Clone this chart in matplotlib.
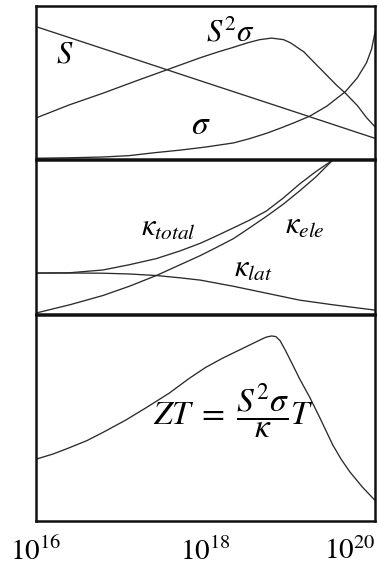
"""
Carrier concentration dependence of the thermoelectric quantities:
Seebeck coefficient, conductivity, power factor, thermal conductivity and ZT
"""

import numpy as np
import matplotlib
matplotlib.use("Agg")
import matplotlib.pyplot as plt

plt.rcParams['font.family'] = ['Liberation Serif', 'DejaVu Serif']
plt.rcParams['mathtext.fontset'] = 'stix'

# log10 of carrier concentration and relative (arbitrary unit) values
seebeck_n = [16.0, 17.0, 18.0, 19.0, 20.0]
seebeck = [0.865, 0.683, 0.50, 0.318, 0.135]

sigma_n = [16.0, 16.4, 16.79, 17.1, 17.38, 17.7, 18.0, 18.33, 18.52, 18.72, 18.9, 19.05,
           19.23, 19.43, 19.65, 19.79, 19.9, 19.96, 20.0]
sigma = [0.005, 0.008, 0.013, 0.022, 0.04, 0.058, 0.078, 0.105, 0.133, 0.168, 0.205, 0.238,
         0.28, 0.345, 0.44, 0.53, 0.63, 0.72, 0.83]

pf_n = [16.0, 16.39, 16.79, 17.18, 17.53, 17.94, 18.15, 18.33, 18.5, 18.64, 18.78,
        18.92, 19.0, 19.08, 19.16, 19.23, 19.31, 19.39, 19.47, 19.55, 19.65, 19.72,
        19.79, 19.9, 20.0]
pf = [0.268, 0.353, 0.43, 0.51, 0.58, 0.662, 0.70, 0.73, 0.76, 0.78, 0.79,
      0.78, 0.76, 0.73, 0.70, 0.66, 0.615, 0.57, 0.525, 0.48, 0.43, 0.39,
      0.35, 0.27, 0.21]

k_total_n = [16.0, 16.4, 16.79, 17.1, 17.42, 17.7, 17.94, 18.12, 18.33, 18.52, 18.72,
             18.92, 19.11, 19.3, 19.5]
k_total = [0.266, 0.268, 0.286, 0.32, 0.36, 0.41, 0.46, 0.505, 0.56, 0.61, 0.67,
           0.755, 0.845, 0.925, 1.0]

k_ele_n = [16.0, 16.4, 16.79, 17.1, 17.42, 17.7, 17.94, 18.12, 18.33, 18.52, 18.72,
           18.92, 19.11, 19.3, 19.5]
k_ele = [0.006, 0.06, 0.12, 0.18, 0.25, 0.32, 0.38, 0.43, 0.49, 0.56, 0.635,
         0.715, 0.80, 0.89, 1.0]

k_lat_n = [16.0, 16.5, 16.79, 17.1, 17.42, 17.7, 17.94, 18.33, 18.72, 19.11, 19.5, 20.0]
k_lat = [0.266, 0.266, 0.265, 0.26, 0.25, 0.235, 0.22, 0.18, 0.135, 0.09, 0.06, 0.025]

zt_n = [16.0, 16.2, 16.39, 16.6, 16.79, 17.06, 17.3, 17.57, 17.8, 18.0, 18.2, 18.4,
        18.55, 18.66, 18.72, 18.78, 18.83, 18.88, 18.94, 19.02, 19.11, 19.23, 19.35,
        19.5, 19.6, 19.7, 19.85, 20.0]
zt = [0.30, 0.325, 0.355, 0.39, 0.43, 0.49, 0.55, 0.62, 0.69, 0.745, 0.79, 0.83,
      0.86, 0.882, 0.893, 0.898, 0.895, 0.875, 0.83, 0.765, 0.69, 0.60, 0.50,
      0.37, 0.30, 0.24, 0.165, 0.10]

tick_n = [16, 18, 20]
tick_labels = [r'$10^{16}$', r'$10^{18}$', r'$10^{20}$']

line_kw = dict(color='#2b2b2b', lw=0.95, solid_joinstyle='round')


def setup_panel(ax):
    ax.set_xscale('log')
    ax.set_xlim(1e16, 1e20)
    ax.set_ylim(0, 1)
    ax.set_yticks([])
    ax.set_xticks([])
    ax.minorticks_off()
    for sp in ax.spines.values():
        sp.set_linewidth(1.8)
        sp.set_color('#111111')


def conc(vals):
    return 10.0 ** np.asarray(vals)


fig = plt.figure(figsize=(3.78, 5.74), dpi=100)
left, width = 0.0952, 0.897

ax_top = fig.add_axes([left, 0.723, width, 0.2666])
ax_mid = fig.add_axes([left, 0.453, width, 0.268])
ax_bot = fig.add_axes([left, 0.0923, width, 0.359])
for ax in (ax_top, ax_mid, ax_bot):
    setup_panel(ax)

# top panel: S, sigma and power factor
ax_top.plot(conc(seebeck_n), seebeck, **line_kw)
ax_top.plot(conc(sigma_n), sigma, **line_kw)
ax_top.plot(conc(pf_n), pf, **line_kw)
ax_top.text(10 ** 16.34, 0.68, r'$S$', fontsize=22, ha='center', va='center')
ax_top.text(10 ** 18.3, 0.82, r'$S^2\sigma$', fontsize=22, ha='center', va='center')
ax_top.text(10 ** 17.94, 0.22, r'$\sigma$', fontsize=24, ha='center', va='center')

# middle panel: thermal conductivity contributions
ax_mid.plot(conc(k_total_n), k_total, **line_kw)
ax_mid.plot(conc(k_ele_n), k_ele, **line_kw)
ax_mid.plot(conc(k_lat_n), k_lat, **line_kw)
ax_mid.text(10 ** 17.56, 0.56, r'$\kappa_{total}$', fontsize=22, ha='center', va='center')
ax_mid.text(10 ** 19.17, 0.57, r'$\kappa_{ele}$', fontsize=22, ha='center', va='center')
ax_mid.text(10 ** 18.56, 0.29, r'$\kappa_{lat}$', fontsize=22, ha='center', va='center')

# bottom panel: figure of merit
ax_bot.plot(conc(zt_n), zt, **line_kw)
ax_bot.text(10 ** 18.33, 0.53, r'$ZT\;=\;\dfrac{S^2\sigma}{\kappa}T$', fontsize=24,
            ha='center', va='center')

ax_bot.set_xticks(conc(tick_n))
ax_bot.set_xticklabels(tick_labels, fontsize=21)
ax_bot.tick_params(axis='x', which='both', length=0, pad=12)
ax_bot.xaxis.set_minor_locator(matplotlib.ticker.NullLocator())
ax_bot.get_xticklabels()[-1].set_horizontalalignment('right')

fig.savefig('out.png', dpi=100)
